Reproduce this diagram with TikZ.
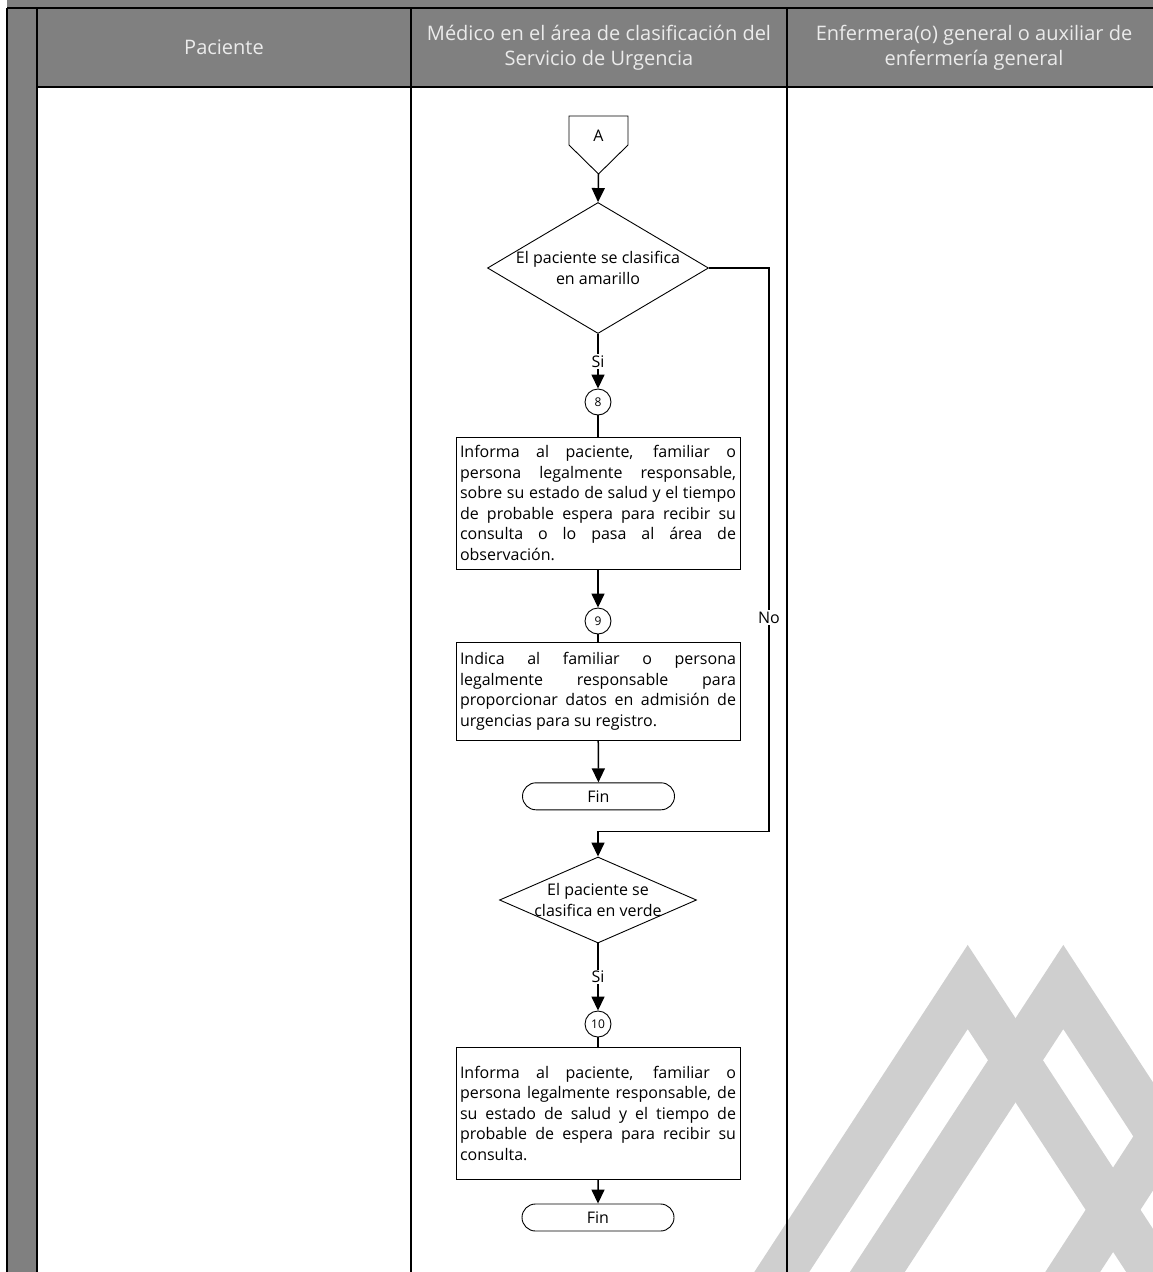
\documentclass[tikz,border=0pt]{standalone}
\usepackage{fontspec}
\setmainfont{Open Sans}
\usetikzlibrary{arrows.meta,shapes.geometric,shapes.misc}

\begin{document}
\begin{tikzpicture}[x=1pt,y=-1pt,>={Triangle[length=14pt,width=13pt]},
	proceso/.style={draw,line width=0.9pt,text width=276pt,inner sep=4pt,align=justify,font=\fontsize{16}{20.5}\selectfont},
	decision/.style={draw,diamond,line width=0.9pt,inner sep=0pt},
	conector/.style={draw,circle,line width=0.9pt,minimum size=26pt,inner sep=0pt,font=\fontsize{12}{14}\selectfont},
	terminal/.style={draw,rounded rectangle,line width=0.9pt,minimum width=152pt,minimum height=27pt,inner sep=0pt,font=\fontsize{16}{18}\selectfont},
	flujo/.style={line width=1.5pt},
	etiqueta/.style={fill=white,inner sep=1.5pt,font=\fontsize{16}{18}\selectfont},
	carril/.style={line width=2pt},
	encabezado/.style={text=white!92!black,align=center,font=\fontsize{20}{25}\selectfont}]
	\useasboundingbox (0,0) rectangle (1153,1272);
	% fondo de encabezado y columna
	\fill[gray] (7,0) rectangle (1153,87.3);
	\fill[gray] (7,87.3) rectangle (37,1272);
	% marca de agua
	\begin{scope}
		\clip (0,87.3) rectangle (1153,1272);
		\draw[black!19,line width=46pt,miter limit=20] (706.7,1387) -- (967.7,987) -- (1228.7,1387);
		\draw[black!19,line width=46pt,miter limit=20] (802.3,1387) -- (1063.3,987) -- (1324.3,1387);
		\draw[black!19,line width=46pt] (1316,897) -- (989,1401);
	\end{scope}
	% carriles
	\draw[carril] (7,8.3) -- (1153,8.3);
	\draw[carril] (37,87.3) -- (1153,87.3);
	\foreach \x in {7,37,411,787}
		\draw[carril] (\x,8.3) -- (\x,1272);
	\node[encabezado] (hpac) at (224,47) {Paciente};
	\node[encabezado] (hmed) at (599,47.5) {Médico en el área de clasificación del\\Servicio de Urgencia};
	\node[encabezado] (henf) at (974,47.5) {Enfermera(o) general o auxiliar de\\enfermería general};
	% conector fuera de pagina
	\draw[line width=0.9pt] (569,116) -- (628,116) -- (628,145) -- (598.5,174) -- (569,145) -- cycle;
	\node[font=\fontsize{16}{18}\selectfont] (A) at (598.5,136) {A};
	\coordinate (Apunta) at (598.5,174);
	% diagrama
	\node[decision,minimum width=221pt,minimum height=131pt,
		label={[align=center,font=\fontsize{16}{20.5}\selectfont]center:El paciente se clasifica\\en amarillo}] (d1) at (598,268) {};
	\node[conector] (c8) at (598,402) {8};
	\node[proceso,minimum height=132pt] (b1) at (598,503) {Informa al paciente, familiar o\linebreak persona legalmente responsable,\linebreak sobre su estado de salud y el tiempo\linebreak de probable espera para recibir su\linebreak consulta o lo pasa al área de\linebreak observación.};
	\node[conector] (c9) at (598,621) {9};
	\node[proceso,minimum height=98.4pt] (b2) at (598,691.5) {Indica al familiar o persona\linebreak legalmente responsable para\linebreak proporcionar datos en admisión de\linebreak urgencias para su registro.};
	\node[terminal] (fin1) at (598.5,796.3) {Fin};
	\coordinate (esquina) at (769,831.7);
	\node[decision,minimum width=197pt,minimum height=86pt,
		label={[align=center,font=\fontsize{16}{20.5}\selectfont]center:El paciente se\\clasifica en verde}] (d2) at (598,900) {};
	\node[conector] (c10) at (598,1024) {10};
	\node[proceso,minimum height=132pt] (b3) at (598,1113) {Informa al paciente, familiar o\linebreak persona legalmente responsable, de\linebreak su estado de salud y el tiempo de\linebreak probable de espera para recibir su\linebreak consulta.};
	\node[terminal] (fin2) at (598,1217.5) {Fin};
	% conectores
	\draw[flujo,->] (Apunta) -- (d1.north);
	\draw[flujo,->] (d1.south) -- node[etiqueta]{Si} (c8.north);
	\draw[flujo] (c8) -- (b1);
	\draw[flujo,->] (b1) -- (c9);
	\draw[flujo] (c9) -- (b2);
	\draw[flujo,->] (b2) -- (fin1);
	\draw[flujo,->] (d1.east) -| node[etiqueta,pos=0.81]{No} (esquina) -| (d2.north);
	\draw[flujo,->] (d2.south) -- node[etiqueta]{Si} (c10.north);
	\draw[flujo] (c10) -- (b3);
	\draw[flujo,->] (b3) -- (fin2);
\end{tikzpicture}
\end{document}
